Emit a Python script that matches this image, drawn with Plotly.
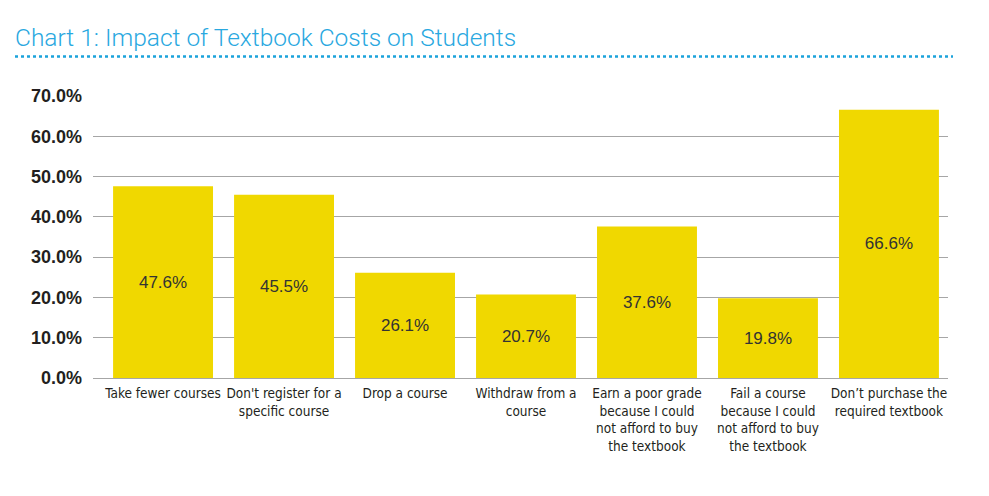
import plotly.graph_objects as go

# survey results, share of students (%)
categories = [
    "Take fewer courses",
    "Don't register for a<br>specific course",
    "Drop a course",
    "Withdraw from a<br>course",
    "Earn a poor grade<br>because I could<br>not afford to buy<br>the textbook",
    "Fail a course<br>because I could<br>not afford to buy<br>the textbook",
    "Don\u2019t purchase the<br>required textbook",
]
values = [47.6, 45.5, 26.1, 20.7, 37.6, 19.8, 66.6]
y_ticks = [0, 10, 20, 30, 40, 50, 60, 70]
y_tick_text = ["%.1f%%" % v for v in y_ticks]

bar_color = "#F0D800"
grid_color = "#A6A6A6"
title_color = "#29A8DF"

# page body adds an 8px offset, so the figure is drawn 8px smaller
W, H = 981, 488

fig = go.Figure()
fig.add_trace(go.Bar(
    x=list(range(len(categories))),
    y=values,
    width=0.826,
    marker=dict(color=bar_color, line=dict(width=0)),
    text=["%.1f%%" % v for v in values],
    textposition="inside",
    insidetextanchor="middle",
    textangle=0,
    textfont=dict(family="Liberation Sans, Arial", size=17, color="#333333"),
    hoverinfo="skip",
))

fig.update_layout(
    width=W, height=H,
    margin=dict(l=85, r=41, t=88, b=118, autoexpand=False),
    paper_bgcolor="white", plot_bgcolor="white",
    showlegend=False,
    title=dict(
        text="Chart 1: Impact of Textbook Costs on Students",
        x=7 / W, xanchor="left", xref="container",
        y=1 - 29 / H, yanchor="middle", yref="container",
        font=dict(family="Roboto, Liberation Sans", size=24.5, color=title_color, weight=300),
    ),
    xaxis=dict(
        range=[-0.579, 6.488],
        tickvals=list(range(len(categories))),
        ticktext=categories,
        tickangle=0,
        automargin=False,
        showgrid=False, zeroline=False,
        showline=True, linecolor=grid_color, linewidth=1.3,
        ticks="", ticklabelstandoff=3,
        tickfont=dict(family="Liberation Sans Narrow, DejaVu Sans Condensed, Liberation Sans",
                      size=13.5, color="#231F20"),
        fixedrange=True,
    ),
    yaxis=dict(
        range=[0, 70],
        tickvals=y_ticks,
        ticktext=y_tick_text,
        automargin=False,
        showgrid=True, gridcolor=grid_color, gridwidth=1.3,
        zeroline=False, showline=False,
        ticks="", ticklabelstandoff=10,
        tickfont=dict(family="Liberation Sans, Arial", size=18, color="#231F20", weight="bold"),
        fixedrange=True,
    ),
    shapes=[dict(
        type="line", xref="paper", yref="paper",
        x0=(15 - 93) / 855, x1=(953 - 93) / 855,
        y0=(377.6 - 56) / 282, y1=(377.6 - 56) / 282,
        line=dict(color="#1BA3DB", width=2.5, dash="dot"),
    )],
)

fig.write_html("out.html")
